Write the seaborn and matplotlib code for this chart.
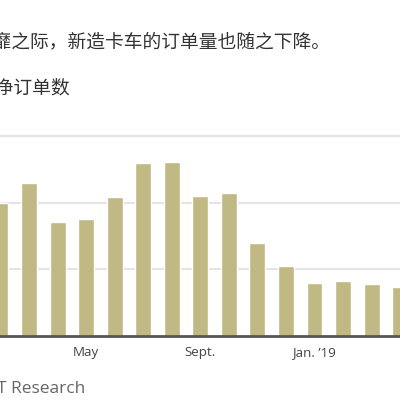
import matplotlib
matplotlib.use("Agg")
import matplotlib.pyplot as plt
import seaborn as sns
import pandas as pd

# Data: monthly net orders (Feb 2018 - Apr 2019)
months = ["Feb 18", "Mar 18", "Apr 18", "May 18", "Jun 18", "Jul 18", "Aug 18",
          "Sep 18", "Oct 18", "Nov 18", "Dec 18", "Jan 19", "Feb 19", "Mar 19", "Apr 19"]
orders = [39800, 46000, 34300, 35200, 41800, 51900, 52200,
          42100, 43000, 27800, 20900, 15800, 16400, 15500, 14600]
tick_positions = [3, 7, 11]
tick_labels = ["May", "Sept.", "Jan. \u201919"]
grid_values = [20000, 40000, 60000]

title_line1 = "在货运市场萎靡之际，新造卡车的订单量也随之下降。"
title_line2 = "8级卡车净订单数"
source_text = "Source: ACT Research"

sns.set_theme(style="white")
plt.rcParams["font.family"] = ["Open Sans", "Noto Sans CJK SC", "DejaVu Sans"]

df = pd.DataFrame({"month": months, "orders": orders})

fig = plt.figure(figsize=(4, 4), dpi=100)
fig.patch.set_facecolor("white")

# axes: baseline at y=336px, 60k at y=136px
W, H = 400.0, 400.0
step = 28.55
x0 = 0.45
ymax = 62000
ax_h_px = 200.0 * ymax / 60000
ax = fig.add_axes([0, (H - 336) / H, 1, ax_h_px / H])

sns.barplot(data=df, x="month", y="orders", order=months, color="#c0b984",
            width=0.56, ax=ax, saturation=1, zorder=3)

ax.set_xlim(-x0 / step, (W - x0) / step)
ax.set_ylim(0, ymax)
ax.set_yticks(grid_values)
ax.set_yticklabels([])
ax.tick_params(axis="y", length=0)
ax.grid(axis="y", color="#e4e4e4", linewidth=1.5, zorder=0)
ax.grid(axis="x", visible=False)

for s in ["top", "right", "left"]:
    ax.spines[s].set_visible(False)
ax.spines["bottom"].set_color("#555555")
ax.spines["bottom"].set_linewidth(2)
ax.spines["bottom"].set_zorder(5)

ax.set_xticks(tick_positions)
ax.set_xticklabels(tick_labels, fontsize=9.6, color="#444444")
ax.tick_params(axis="x", length=4, width=1, color="#333333", direction="out", pad=3)
ax.set_xlabel("")
ax.set_ylabel("")

cjk = ["Noto Sans CJK SC", "DejaVu Sans"]
fig.text(330 / W, 1 - 42 / H, title_line1, ha="right", va="center",
         fontsize=13.5, color="#333333", family=cjk)
fig.text(70 / W, 1 - 88 / H, title_line2, ha="right", va="center",
         fontsize=13.5, color="#333333", family=cjk)
fig.text(85 / W, 1 - 389 / H, source_text, ha="right", va="center",
         fontsize=12.5, color="#666666", family=["Open Sans", "DejaVu Sans"])

fig.savefig("out.png", dpi=100, facecolor="white")
